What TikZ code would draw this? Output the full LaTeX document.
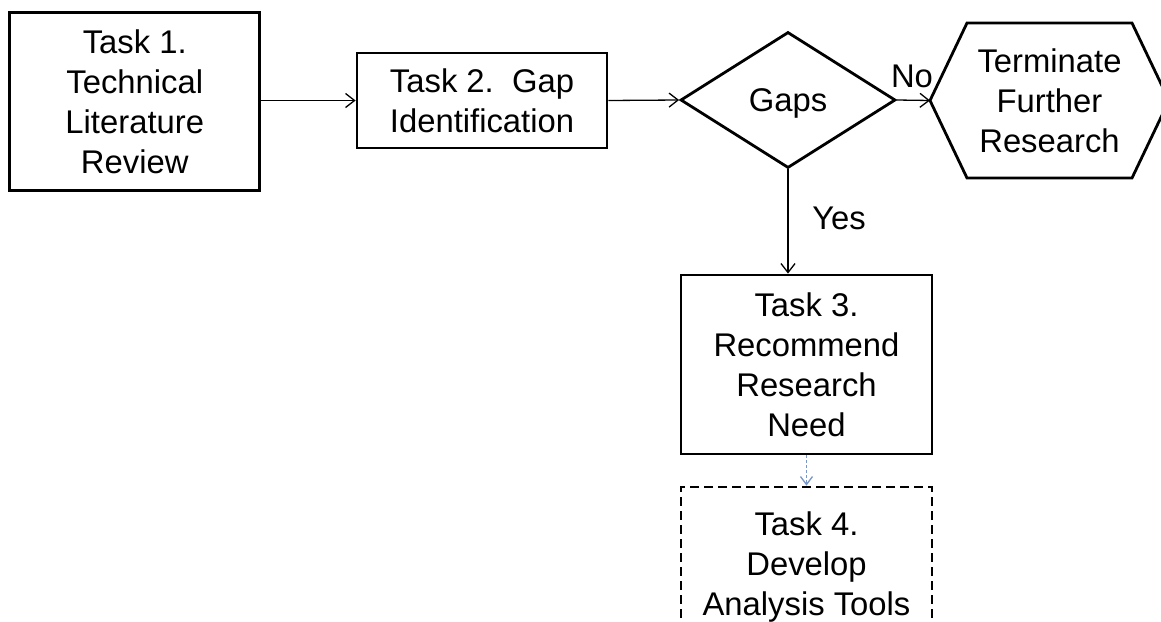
\documentclass[tikz,border=0pt]{standalone}
\usepackage{fontspec}
\setmainfont{Liberation Sans}
\usetikzlibrary{arrows.meta,shapes.geometric}
\begin{document}
\begin{tikzpicture}[x=1pt,y=-1pt,
  every node/.style={font=\fontsize{32.8}{40}\selectfont, align=center, inner sep=0pt},
  boxstyle/.style={draw, line width=2.8pt, rectangle},
  arr/.style={line width=1.3pt, -{Straight Barb[length=9pt,width=14pt,line width=1.3pt]}},
  bluearr/.style={line width=1.3pt, draw={rgb,255:red,120;green,150;blue,200}, dash pattern=on 3pt off 2pt,
     -{Straight Barb[length=8pt,width=12pt,line width=1.3pt]}},
  dashbox/.style={draw, line width=2.8pt, rectangle, dash pattern=on 9pt off 5pt}]
\useasboundingbox (0,0) rectangle (1161,621);
\clip (0,0) rectangle (1161,621);

\node[boxstyle, minimum width=250pt, minimum height=178pt] (t1) at (134.75,101.75)
  {Task 1.\\Technical\\Literature\\Review};
\node[boxstyle, minimum width=250pt, minimum height=95pt] (t2) at (482,100.5)
  {Task 2.\ \ Gap\\Identification};
\node[diamond, draw, line width=2.8pt, minimum width=215pt, minimum height=136pt, text depth=0pt] (gaps) at (788,100) {Gaps};

\coordinate (termtip) at (930,100.5);
\draw[line width=2.8pt, line join=miter] (termtip) -- (967,23) -- (1132,23) -- (1169,100.5) -- (1132,178) -- (967,178) -- cycle;
\node (term) at (1049.5,100.5) {Terminate\\Further\\Research};

\node[boxstyle, minimum width=251pt, minimum height=179pt] (t3) at (806.5,364.5)
  {Task 3.\\Recommend\\Research\\Need};
\node[dashbox, minimum width=251pt, minimum height=160pt] (t4) at (806.5,567)
  {Task 4.\\Develop\\Analysis Tools};

\draw[arr] (t1.east |- t2.west) -- (t2.west);
\draw[arr] (t2.east) -- (gaps.west);
\draw[arr] (gaps.east) -- (termtip);
\draw[arr] (gaps.south) -- (gaps.south |- t3.north);
\draw[bluearr] (t3.south) -- (t4.north);

\node (no) at (912,76.5) {No};
\node (yes) at (839,218.5) {Yes};
\end{tikzpicture}
\end{document}
